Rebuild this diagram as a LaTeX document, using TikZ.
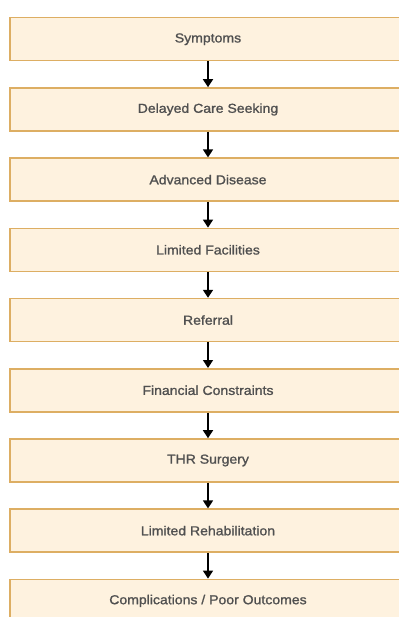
\documentclass[tikz,border=0pt]{standalone}
\usepackage{fontspec}
\setmainfont{Liberation Sans}
\newfontfamily\boxfont[FakeStretch=1.08,FakeBold=1.2]{Liberation Sans}
\usetikzlibrary{arrows.meta}
\definecolor{boxfill}{HTML}{FEF2DF}
\definecolor{boxdraw}{HTML}{DDAE63}
\definecolor{txt}{HTML}{505050}
\begin{document}
\begin{tikzpicture}[x=1pt,y=1pt,
  stepbox/.style={draw=boxdraw, fill=boxfill, line width=1.5pt, minimum width=396pt, minimum height=43pt, inner sep=0pt,
    text=txt, font=\boxfont\fontsize{13}{15}\selectfont, anchor=north},
  flow/.style={-{Triangle[length=8pt,width=10pt]}, line width=1.5pt, black}]
\useasboundingbox (0,0) rectangle (398,-617);
\node[stepbox] (s1) at (208,-17) {Symptoms};
\node[stepbox] (s2) at (208,-87.2) {Delayed Care Seeking};
\node[stepbox] (s3) at (208,-157.4) {Advanced Disease};
\node[stepbox] (s4) at (208,-227.6) {Limited Facilities};
\node[stepbox] (s5) at (208,-297.8) {Referral};
\node[stepbox] (s6) at (208,-368) {Financial Constraints};
\node[stepbox] (s7) at (208,-438.2) {THR Surgery};
\node[stepbox] (s8) at (208,-508.4) {Limited Rehabilitation};
\node[stepbox] (s9) at (208,-578.6) {Complications / Poor Outcomes};
\foreach \a/\b in {s1/s2,s2/s3,s3/s4,s4/s5,s5/s6,s6/s7,s7/s8,s8/s9}
  \draw[flow] (\a.south) -- (\b.north);
\end{tikzpicture}
\end{document}
